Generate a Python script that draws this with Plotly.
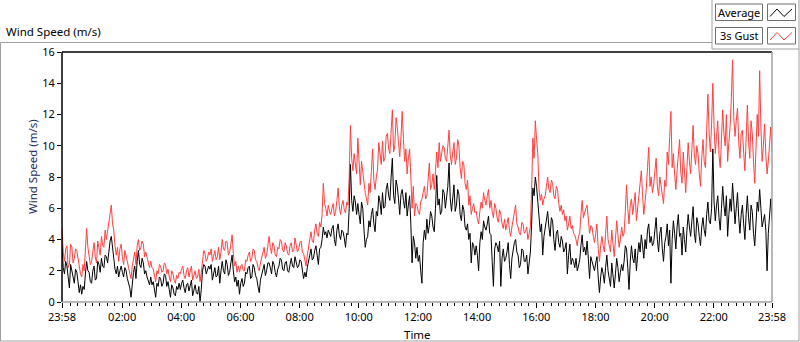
import numpy as np
import plotly.graph_objects as go

# ---- data (2.5-minute samples starting 23:58) ----
gust = [
    4.8, 3.2, 2.6, 3.4, 3.6, 2.2, 2.4, 3.7, 3.5, 2.5, 2.8, 3.4, 3.3, 2.7, 2.2, 1.8, 1.6, 2.4, 2.0, 3.3, 4.7, 3.5, 2.9, 2.4,
    2.6, 3.3, 3.8, 2.9, 2.5, 3.9, 3.4, 3.0, 4.2, 3.6, 3.5, 4.6, 4.0, 4.5, 5.2, 5.8, 6.2, 5.0, 4.6, 3.6, 3.0, 3.5, 2.6, 3.4,
    3.7, 2.9, 2.4, 3.3, 3.0, 2.6, 2.2, 1.9, 1.5, 2.3, 2.8, 3.2, 2.4, 3.6, 4.0, 3.3, 3.5, 3.9, 3.7, 2.9, 3.2, 2.8, 2.5, 2.2,
    2.6, 2.2, 2.1, 1.7, 1.3, 2.0, 1.8, 2.4, 2.3, 1.9, 2.0, 2.5, 2.4, 1.8, 2.1, 1.6, 1.3, 2.0, 1.8, 1.4, 1.2, 1.7, 1.5, 1.9,
    1.8, 2.1, 2.3, 1.7, 1.5, 2.0, 2.2, 1.6, 1.9, 2.3, 1.4, 1.8, 2.0, 1.5, 1.6, 2.1, 1.3, 1.9, 2.7, 3.3, 3.1, 2.6, 2.8, 3.2,
    3.0, 3.4, 2.6, 2.9, 3.3, 2.7, 2.9, 3.5, 2.7, 3.2, 4.0, 3.4, 3.3, 3.9, 3.8, 3.0, 3.2, 3.7, 4.3, 3.1, 2.3, 2.6, 1.9, 2.3,
    1.9, 2.3, 2.4, 2.0, 2.0, 2.7, 2.6, 3.0, 3.2, 2.6, 2.8, 3.4, 3.3, 2.7, 2.6, 2.2, 2.0, 2.5, 2.9, 3.3, 3.5, 2.8, 3.0, 3.6,
    4.2, 3.5, 3.1, 3.8, 3.6, 3.0, 2.9, 3.5, 3.4, 4.0, 3.9, 3.3, 3.2, 3.8, 3.6, 3.1, 3.0, 3.6, 3.8, 3.2, 3.3, 4.1, 3.7, 3.2,
    3.4, 3.8, 3.9, 3.2, 3.1, 2.6, 2.3, 3.0, 3.6, 4.2, 4.5, 3.9, 3.8, 4.6, 5.0, 4.4, 4.2, 5.1, 4.8, 5.6, 7.6, 6.3, 6.0, 5.5,
    6.2, 5.8, 5.6, 6.0, 6.3, 5.5, 5.8, 6.5, 7.3, 6.1, 5.6, 6.2, 6.5, 5.9, 5.7, 6.4, 6.2, 8.0, 11.3, 9.2, 8.4, 9.5, 9.0, 8.2,
    10.5, 8.6, 7.5, 9.0, 8.2, 7.4, 7.0, 6.6, 6.2, 7.6, 7.0, 8.4, 9.8, 7.8, 7.2, 8.0, 8.5, 10.2, 9.6, 8.8, 10.3, 9.0, 9.2, 10.6,
    10.8, 9.8, 9.5, 11.4, 12.3, 9.6, 10.0, 11.8, 11.2, 10.2, 9.3, 10.6, 12.2, 10.4, 9.0, 9.8, 8.2, 9.2, 9.8, 8.0, 6.0, 7.4, 5.5, 6.3,
    6.2, 5.8, 5.6, 6.4, 6.6, 7.0, 7.4, 6.6, 6.8, 7.8, 8.9, 7.2, 7.5, 8.2, 7.2, 8.4, 9.6, 8.6, 10.2, 9.0, 9.4, 10.0, 9.9, 9.2,
    9.0, 10.2, 11.0, 9.4, 8.8, 9.6, 10.2, 8.8, 9.2, 10.4, 10.0, 8.6, 7.9, 9.0, 8.8, 7.6, 7.2, 7.8, 6.2, 6.8, 5.6, 6.0, 6.3, 5.7,
    5.8, 5.3, 5.0, 5.8, 6.4, 6.0, 7.0, 6.5, 6.2, 6.8, 7.2, 6.0, 6.5, 5.8, 5.4, 6.3, 6.0, 5.4, 5.1, 5.9, 5.6, 5.0, 4.7, 5.3,
    4.6, 5.0, 5.4, 4.6, 4.2, 4.8, 5.2, 5.6, 6.2, 5.0, 4.8, 4.4, 4.3, 5.1, 5.0, 4.4, 4.5, 4.8, 4.0, 4.4, 4.8, 7.2, 10.5, 9.2,
    11.6, 10.4, 9.5, 7.2, 6.5, 6.9, 6.2, 6.6, 6.8, 7.4, 8.0, 7.2, 7.0, 7.8, 7.6, 6.8, 6.6, 7.4, 7.2, 6.3, 5.8, 6.2, 5.6, 5.9,
    5.2, 5.5, 4.6, 5.0, 5.5, 4.7, 4.9, 4.4, 4.3, 4.0, 3.6, 4.2, 4.4, 5.6, 6.5, 5.4, 5.8, 6.0, 6.2, 5.0, 4.4, 4.9, 4.8, 4.2,
    3.8, 4.4, 5.0, 3.4, 2.6, 3.6, 4.2, 3.6, 3.2, 4.4, 5.5, 4.0, 3.6, 3.2, 4.6, 3.8, 2.9, 4.0, 5.2, 4.3, 3.5, 4.0, 4.8, 4.2,
    4.4, 5.8, 7.5, 6.0, 5.0, 6.2, 6.6, 5.6, 6.2, 7.0, 5.2, 6.0, 6.8, 7.6, 8.4, 6.8, 5.6, 6.4, 7.2, 8.6, 9.9, 7.4, 8.0, 7.0,
    7.5, 8.4, 9.2, 7.4, 6.8, 8.0, 7.5, 6.9, 6.3, 7.8, 7.4, 9.6, 8.8, 10.6, 12.2, 8.6, 9.5, 8.2, 7.2, 8.4, 9.8, 10.4, 8.3, 7.6,
    9.6, 8.2, 7.0, 8.6, 10.2, 9.0, 8.2, 9.8, 11.3, 9.4, 8.8, 10.0, 9.5, 8.2, 7.4, 9.2, 10.4, 9.0, 8.6, 11.0, 13.3, 10.8, 9.6, 11.4,
    14.0, 11.2, 9.5, 10.6, 11.6, 9.4, 8.6, 10.4, 12.3, 10.8, 10.0, 12.0, 9.0, 10.2, 11.2, 13.0, 15.5, 11.8, 10.6, 11.6, 12.4, 10.2, 9.2, 10.8,
    11.0, 9.6, 8.4, 10.4, 12.6, 10.2, 9.2, 11.6, 10.8, 9.0, 7.6, 9.8, 12.0, 10.6, 14.8, 11.2, 9.0, 10.0, 11.4, 9.4, 8.2, 9.0, 10.4, 11.2, 9.6,
]
average = [
    3.6, 2.2, 1.8, 2.6, 2.3, 1.4, 0.9, 2.4, 2.0, 1.5, 1.2, 2.1, 1.9, 1.3, 0.6, 1.1, 0.5, 1.0, 0.8, 1.8, 2.6, 2.0, 1.9, 1.3,
    1.2, 2.0, 2.3, 1.4, 1.5, 2.6, 2.4, 1.9, 2.8, 2.3, 2.2, 3.0, 2.9, 2.5, 3.4, 3.9, 4.2, 3.2, 2.8, 2.1, 1.8, 2.3, 1.6, 2.0,
    2.3, 1.9, 1.6, 2.2, 2.0, 1.5, 1.2, 0.9, 0.3, 1.2, 1.9, 2.3, 1.5, 2.6, 3.3, 2.4, 2.2, 2.8, 2.5, 1.8, 2.0, 1.6, 1.4, 1.1,
    1.6, 1.1, 1.3, 0.7, 0.3, 1.2, 1.0, 1.6, 1.5, 1.0, 1.2, 1.8, 1.7, 1.0, 1.3, 0.8, 0.3, 1.1, 0.9, 0.5, 0.4, 1.0, 0.8, 1.2,
    0.8, 1.2, 1.4, 0.9, 0.6, 1.1, 1.2, 0.7, 1.0, 1.4, 0.4, 0.9, 1.1, 0.6, 0.5, 1.0, 0.0, 0.8, 2.0, 2.4, 2.3, 1.8, 2.0, 2.3,
    2.1, 2.4, 1.4, 1.9, 2.2, 1.6, 1.7, 2.3, 1.2, 2.0, 2.6, 2.0, 1.8, 2.7, 2.4, 1.7, 1.9, 2.5, 3.0, 2.0, 1.3, 1.6, 1.0, 1.4,
    0.5, 1.2, 1.5, 1.0, 1.2, 1.9, 1.8, 2.2, 2.3, 1.5, 1.6, 2.4, 2.2, 1.7, 1.5, 1.0, 0.6, 1.4, 1.8, 2.2, 2.4, 1.7, 2.0, 2.5,
    2.5, 2.2, 1.8, 2.6, 2.4, 1.9, 1.6, 2.1, 2.3, 2.8, 2.7, 2.1, 2.0, 2.5, 2.6, 2.0, 1.9, 2.4, 2.8, 2.3, 2.2, 2.9, 2.6, 2.2,
    2.3, 2.7, 2.6, 2.0, 1.5, 1.9, 1.6, 2.2, 2.6, 3.1, 3.4, 2.7, 2.8, 3.3, 3.6, 3.0, 2.4, 3.4, 3.5, 4.0, 4.8, 4.3, 4.5, 4.1,
    4.6, 4.4, 4.2, 4.7, 4.9, 4.0, 3.6, 4.6, 5.0, 4.3, 4.0, 4.6, 4.5, 4.1, 3.5, 4.4, 4.3, 6.0, 8.8, 6.5, 5.8, 6.8, 6.4, 5.6,
    6.3, 5.6, 5.0, 6.4, 6.0, 4.6, 3.5, 4.0, 4.2, 5.2, 4.8, 5.6, 6.0, 5.0, 4.5, 5.8, 5.5, 6.8, 6.4, 5.6, 7.0, 6.0, 6.1, 7.2,
    7.6, 6.8, 6.5, 8.0, 9.2, 6.8, 6.3, 7.8, 7.4, 6.6, 5.6, 6.9, 7.2, 6.5, 6.0, 7.0, 5.5, 6.2, 6.8, 5.0, 2.5, 4.2, 3.8, 2.8,
    3.5, 2.6, 3.0, 2.0, 1.2, 3.8, 4.6, 4.0, 5.3, 4.4, 4.9, 5.8, 5.5, 4.8, 4.5, 6.0, 8.1, 6.2, 6.6, 5.6, 5.8, 7.2, 7.0, 6.0,
    6.8, 7.4, 8.9, 6.6, 5.8, 6.6, 7.5, 5.8, 6.2, 7.2, 6.9, 5.6, 5.2, 6.2, 5.9, 4.8, 4.6, 5.0, 4.0, 4.4, 2.5, 3.8, 3.6, 3.0,
    3.6, 3.0, 2.0, 3.8, 4.5, 4.0, 5.2, 4.8, 4.6, 5.0, 5.5, 4.4, 4.3, 2.6, 1.0, 3.4, 3.8, 3.6, 3.2, 3.9, 1.0, 2.8, 3.4, 2.6,
    2.8, 3.2, 3.8, 2.4, 1.5, 2.8, 3.5, 3.8, 4.0, 3.2, 3.0, 2.2, 2.4, 3.4, 3.3, 2.6, 2.6, 3.0, 1.8, 2.6, 3.2, 5.0, 7.3, 6.8,
    8.0, 7.4, 6.5, 5.2, 4.5, 5.0, 3.0, 4.2, 4.8, 5.2, 5.8, 4.8, 4.2, 5.4, 5.2, 4.0, 3.3, 4.4, 4.6, 3.8, 3.5, 4.2, 3.9, 3.2,
    3.4, 3.8, 1.8, 3.0, 3.7, 2.4, 2.8, 2.6, 2.2, 2.8, 2.0, 2.3, 2.7, 3.6, 4.3, 3.2, 3.5, 3.0, 3.9, 2.8, 1.5, 2.9, 2.6, 2.2,
    2.0, 2.5, 2.9, 1.6, 0.6, 1.6, 2.2, 1.8, 1.2, 2.2, 3.0, 2.0, 1.4, 1.0, 2.5, 1.8, 0.9, 1.8, 2.8, 2.2, 1.3, 1.9, 2.4, 2.0,
    2.6, 3.6, 3.4, 2.2, 0.8, 2.6, 3.6, 2.8, 2.5, 3.4, 2.0, 3.0, 3.8, 3.2, 4.3, 3.6, 2.8, 4.0, 3.4, 4.6, 5.0, 3.8, 4.2, 3.6,
    3.8, 4.6, 5.4, 4.0, 3.2, 4.4, 4.8, 3.4, 2.6, 3.8, 4.2, 5.0, 3.6, 4.6, 1.2, 4.0, 5.2, 4.4, 3.4, 4.8, 5.6, 4.2, 4.4, 3.0,
    4.8, 4.0, 3.2, 4.6, 5.6, 4.8, 4.2, 5.2, 6.1, 4.4, 3.8, 5.4, 5.0, 4.2, 3.6, 4.8, 5.4, 4.6, 4.2, 5.6, 6.4, 5.2, 5.0, 6.0,
    9.8, 6.4, 5.2, 6.2, 6.8, 5.4, 4.6, 6.0, 7.4, 6.2, 5.5, 6.8, 4.2, 5.6, 6.6, 5.8, 7.6, 6.4, 5.0, 6.0, 7.0, 5.4, 4.4, 5.6,
    6.2, 5.0, 4.0, 5.6, 6.8, 5.4, 4.6, 6.2, 5.8, 4.4, 3.6, 5.0, 6.4, 5.8, 7.2, 6.0, 4.8, 5.2, 5.6, 4.6, 2.0, 4.4, 5.8, 6.6, 5.2,
]
sample_minutes = 2.5        # sampling interval
start_offset = 2            # 23:58 is 2 minutes before 00:00
tick_minutes = [0, 122, 242, 362, 482, 602, 722, 842, 962, 1082, 1202, 1322, 1440]
tick_labels = ["23:58", "02:00", "04:00", "06:00", "08:00", "10:00", "12:00",
               "14:00", "16:00", "18:00", "20:00", "22:00", "23:58"]
y_ticks = [0, 2, 4, 6, 8, 10, 12, 14, 16]
series_names = ["Average", "3s Gust"]

x_gust = np.arange(len(gust)) * sample_minutes
x_avg = np.arange(len(average)) * sample_minutes

# ---- geometry helpers (pixel -> paper) ----
W, H = 800, 342
L, R, T, B = 62, 28, 52, 40
PW, PH = W - L - R, H - T - B
def px(x):
    return (x - L) / PW
def py(y):
    return (H - B - y) / PH

FONT = "Noto Sans"
fig = go.Figure()
fig.add_trace(go.Scatter(x=x_gust, y=gust, mode="lines", name=series_names[1],
                         line=dict(color="#ff4040", width=1), showlegend=False))
fig.add_trace(go.Scatter(x=x_avg, y=average, mode="lines", name=series_names[0],
                         line=dict(color="#000000", width=1), showlegend=False))

fig.update_layout(
    width=W, height=H, margin=dict(l=L, r=R, t=T, b=B),
    paper_bgcolor="white", plot_bgcolor="white",
    font=dict(family=FONT, size=11, color="black"),
    xaxis=dict(range=[0, 1440], tickmode="array", tickvals=tick_minutes, ticktext=tick_labels,
               ticks="outside", ticklen=5, tickwidth=1, tickcolor="black",
               minor=dict(tickmode="linear", tick0=start_offset, dtick=15, ticks="outside",
                          ticklen=3, tickcolor="black"),
               showgrid=False, zeroline=False, showline=False),
    yaxis=dict(range=[0, 16], tickvals=y_ticks, ticks="outside", ticklen=4, tickcolor="black",
               showgrid=False, zeroline=False, showline=False),
)

gray = "#a0a0a0"
shapes = []
# outer frame with legend notch
shapes.append(dict(type="path", xref="paper", yref="paper",
                   path=f"M {px(712)},{py(42.5)} L {px(0.5)},{py(42.5)} L {px(0.5)},{py(341)} "
                        f"L {px(799)},{py(341)} L {px(799)},{py(0)}",
                   line=dict(color=gray, width=1)))
shapes.append(dict(type="path", xref="paper", yref="paper",
                   path=f"M {px(712)},{py(0)} L {px(712)},{py(49)} L {px(799)},{py(49)}",
                   line=dict(color=gray, width=1)))
# plot area frame: dark top/left, gray right/bottom
shapes.append(dict(type="line", xref="paper", yref="paper", x0=0, x1=1, y0=1, y1=1,
                   line=dict(color="black", width=1.5)))
shapes.append(dict(type="line", xref="paper", yref="paper", x0=0, x1=0, y0=0, y1=1,
                   line=dict(color="black", width=1.5)))
shapes.append(dict(type="line", xref="paper", yref="paper", x0=1, x1=1, y0=0, y1=1,
                   line=dict(color=gray, width=1.5)))
shapes.append(dict(type="line", xref="paper", yref="paper", x0=0, x1=1, y0=0, y1=0,
                   line=dict(color=gray, width=1.5)))
# legend boxes
for row, (y0, col) in enumerate([(4, "black"), (27.5, "#ff4040")]):
    y1 = y0 + 16.5
    shapes.append(dict(type="rect", xref="paper", yref="paper",
                       x0=px(715.5), x1=px(762.5), y0=py(y1), y1=py(y0),
                       line=dict(color="#707070", width=1), fillcolor="white"))
    shapes.append(dict(type="rect", xref="paper", yref="paper",
                       x0=px(767.5), x1=px(795.5), y0=py(y1), y1=py(y0),
                       line=dict(color="#707070", width=1), fillcolor="white"))
    yb, yt = y1 - 4, y0 + 5
    shapes.append(dict(type="path", xref="paper", yref="paper",
                       path=f"M {px(770)},{py(yb)} L {px(777)},{py(yt)} L {px(784)},{py(yb)} L {px(792)},{py(yt)}",
                       line=dict(color=col, width=1)))
fig.update_layout(shapes=shapes)

ann = []
ann.append(dict(text="Wind Speed (m/s)", x=px(4), y=py(32), xref="paper", yref="paper",
                xanchor="left", yanchor="middle", showarrow=False,
                font=dict(family=FONT, size=11.5, color="black")))
ann.append(dict(text="Wind Speed (m/s)", x=px(32), y=py(167), xref="paper", yref="paper",
                xanchor="center", yanchor="middle", showarrow=False, textangle=-90,
                font=dict(family=FONT, size=11.5, color="#1c2a5a")))
ann.append(dict(text="Time", x=px(417), y=py(334), xref="paper", yref="paper",
                xanchor="center", yanchor="middle", showarrow=False,
                font=dict(family=FONT, size=11.5, color="black")))
ann.append(dict(text=series_names[0], x=px(739), y=py(12.5), xref="paper", yref="paper",
                xanchor="center", yanchor="middle", showarrow=False,
                font=dict(family=FONT, size=11, color="black")))
ann.append(dict(text=series_names[1], x=px(739), y=py(36), xref="paper", yref="paper",
                xanchor="center", yanchor="middle", showarrow=False,
                font=dict(family=FONT, size=11, color="black")))
fig.update_layout(annotations=ann)

fig.write_html("out.html", config={"displayModeBar": False},
               post_script="document.body.style.margin='0';document.body.style.padding='0';")
